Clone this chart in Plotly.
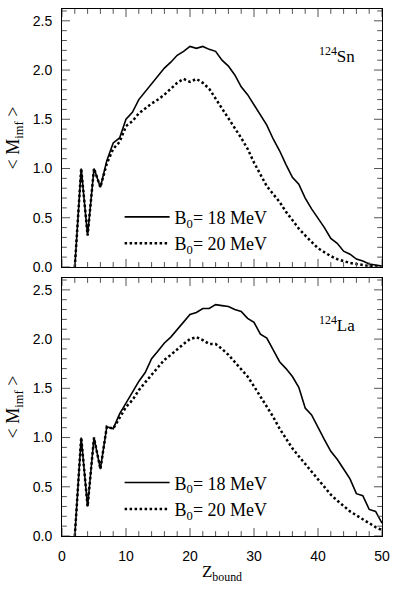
import plotly.graph_objects as go
from plotly.subplots import make_subplots

# Z_bound values
z_bound = list(range(2, 51))

# 124Sn
sn_b18 = [0.0, 1.0, 0.32, 1.0, 0.81, 1.08, 1.26, 1.31, 1.50, 1.57, 1.70, 1.78, 1.86, 1.94,
          2.02, 2.08, 2.15, 2.19, 2.24, 2.22, 2.24, 2.21, 2.19, 2.10, 2.04, 1.95, 1.83, 1.75,
          1.65, 1.55, 1.44, 1.30, 1.18, 1.04, 0.91, 0.84, 0.70, 0.59, 0.50, 0.40, 0.29, 0.24,
          0.16, 0.13, 0.08, 0.06, 0.03, 0.02, 0.01]
sn_b20 = [0.0, 1.0, 0.32, 1.0, 0.81, 1.05, 1.20, 1.27, 1.43, 1.48, 1.56, 1.61, 1.66, 1.70,
          1.75, 1.81, 1.87, 1.91, 1.88, 1.91, 1.87, 1.81, 1.71, 1.62, 1.52, 1.42, 1.31, 1.20,
          1.06, 0.94, 0.82, 0.74, 0.66, 0.56, 0.47, 0.39, 0.32, 0.25, 0.19, 0.15, 0.11, 0.08,
          0.06, 0.04, 0.03, 0.02, 0.01, 0.01, 0.0]

# 124La
la_b18 = [0.0, 1.0, 0.30, 1.0, 0.68, 1.11, 1.09, 1.24, 1.35, 1.46, 1.57, 1.66, 1.80, 1.88,
          1.96, 2.02, 2.10, 2.17, 2.25, 2.27, 2.31, 2.31, 2.35, 2.34, 2.33, 2.30, 2.28, 2.21,
          2.17, 2.05, 2.01, 1.89, 1.77, 1.70, 1.62, 1.51, 1.30, 1.23, 1.10, 0.98, 0.86, 0.78,
          0.68, 0.58, 0.43, 0.41, 0.27, 0.25, 0.13]
la_b20 = [0.0, 1.0, 0.30, 1.0, 0.68, 1.11, 1.09, 1.20, 1.31, 1.38, 1.48, 1.56, 1.64, 1.71,
          1.79, 1.84, 1.90, 1.95, 2.00, 2.02, 1.99, 1.95, 1.95, 1.90, 1.84, 1.77, 1.70, 1.62,
          1.52, 1.42, 1.32, 1.21, 1.09, 0.99, 0.89, 0.81, 0.73, 0.66, 0.58, 0.50, 0.42, 0.36,
          0.30, 0.25, 0.21, 0.17, 0.13, 0.09, 0.06]

# tick values
x_major = [0, 10, 20, 30, 40, 50]
x_minor = [v for v in range(0, 51, 2) if v % 10]
y_major = [0.0, 0.5, 1.0, 1.5, 2.0, 2.5]
y_minor = [round(i * 0.1, 1) for i in range(27) if i % 5]

serif = "Liberation Serif"
sans = "Liberation Sans"

fig = make_subplots(rows=2, cols=1, shared_xaxes=False, vertical_spacing=0.021)

fig.add_trace(go.Scatter(x=z_bound, y=sn_b18, mode="lines", name="B<sub>0</sub>= 18 MeV",
                         line=dict(color="black", width=1.6), legend="legend"), row=1, col=1)
fig.add_trace(go.Scatter(x=z_bound, y=sn_b20, mode="lines", name="B<sub>0</sub>= 20 MeV",
                         line=dict(color="black", width=2.5, dash="2.5px,2.5px"), legend="legend"), row=1, col=1)
fig.add_trace(go.Scatter(x=z_bound, y=la_b18, mode="lines", name="B<sub>0</sub>= 18 MeV",
                         line=dict(color="black", width=1.6), legend="legend2"), row=2, col=1)
fig.add_trace(go.Scatter(x=z_bound, y=la_b20, mode="lines", name="B<sub>0</sub>= 20 MeV",
                         line=dict(color="black", width=2.5, dash="2.5px,2.5px"), legend="legend2"), row=2, col=1)

axis_common = dict(showline=True, linecolor="black", linewidth=1, mirror=True,
                   ticks="", showgrid=False, zeroline=False)

fig.update_xaxes(range=[0, 50], tickvals=x_major, **axis_common)
fig.update_yaxes(range=[0, 2.62], tickvals=y_major, tickformat=".1f",
                 ticklabelstandoff=6,
                 title=dict(text="&lt; M<sub>imf</sub> &gt;", font=dict(family=serif, size=18, color="black"),
                            standoff=8),
                 **axis_common)
fig.update_xaxes(showticklabels=False, row=1, col=1)
fig.update_xaxes(ticklabelstandoff=7,
                 title=dict(text="Z<sub>bound</sub>", font=dict(family=serif, size=17, color="black"),
                            standoff=2), row=2, col=1)

# inward tick marks on all four sides of both panels
tick_line = dict(color="#555", width=1)
for xa, ya in [("x", "y"), ("x2", "y2")]:
    for vals, frac in [(x_major, 0.031), (x_minor, 0.019)]:
        for v in vals:
            fig.add_shape(type="line", xref=xa, yref=ya + " domain", x0=v, x1=v, y0=0, y1=frac,
                          line=tick_line, layer="above")
            fig.add_shape(type="line", xref=xa, yref=ya + " domain", x0=v, x1=v, y0=1 - frac, y1=1,
                          line=tick_line, layer="above")
    for vals, frac in [(y_major, 0.025), (y_minor, 0.015)]:
        for v in vals:
            fig.add_shape(type="line", xref=xa + " domain", yref=ya, x0=0, x1=frac, y0=v, y1=v,
                          line=tick_line, layer="above")
            fig.add_shape(type="line", xref=xa + " domain", yref=ya, x0=1 - frac, x1=1, y0=v, y1=v,
                          line=tick_line, layer="above")

fig.add_annotation(text="<sup>124</sup>Sn", xref="x domain", yref="y domain", x=0.922, y=0.82,
                   xanchor="right", yanchor="middle", showarrow=False,
                   font=dict(family=serif, size=17, color="black"), row=1, col=1)
fig.add_annotation(text="<sup>124</sup>La", xref="x domain", yref="y domain", x=0.922, y=0.82,
                   xanchor="right", yanchor="middle", showarrow=False,
                   font=dict(family=serif, size=17, color="black"), row=2, col=1)

legend_style = dict(font=dict(family=serif, size=18, color="black"), bgcolor="rgba(0,0,0,0)",
                    xanchor="left", yanchor="top", tracegroupgap=0, itemwidth=45)
fig.update_layout(
    width=398, height=591,
    margin=dict(l=62, r=12, t=8, b=55),
    font=dict(family=sans, size=14, color="black"),
    plot_bgcolor="white", paper_bgcolor="white",
    legend=dict(x=0.18, y=0.64, **legend_style),
    legend2=dict(x=0.18, y=0.136, **legend_style),
)

fig.write_html("out.html", config={"displayModeBar": False},
               post_script="document.body.style.margin='0';document.body.style.overflow='hidden';")
